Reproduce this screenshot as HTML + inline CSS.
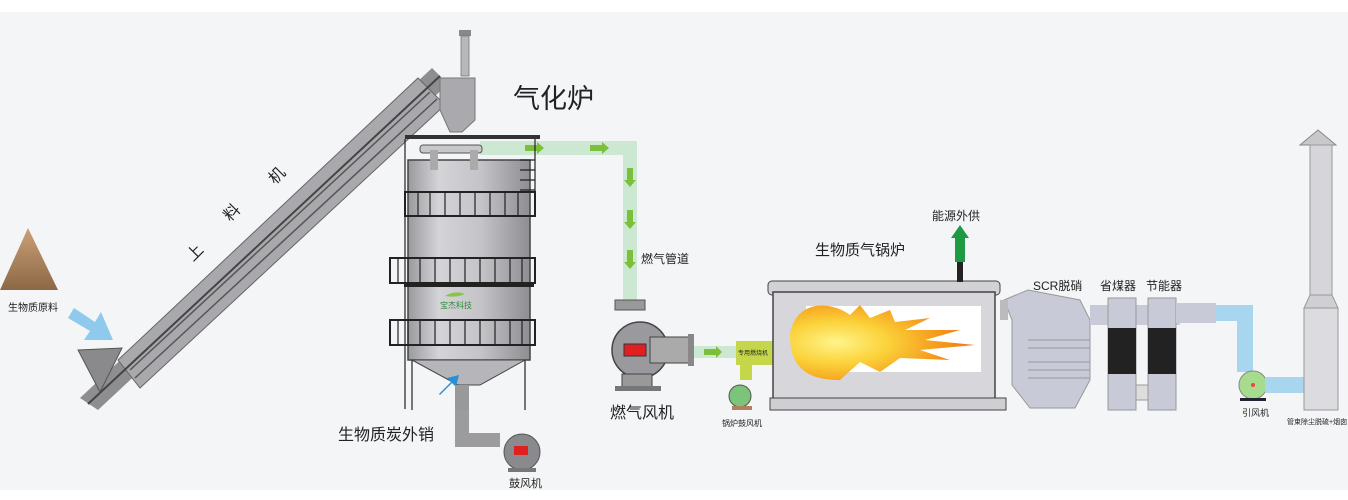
<!DOCTYPE html>
<html><head><meta charset="utf-8"><style>
html,body{margin:0;padding:0;background:#f4f5f6;}
svg{display:block}
text{font-family:"Liberation Sans","Noto Sans CJK SC",sans-serif;fill:#222}
</style></head><body>
<svg width="1348" height="500" viewBox="0 0 1348 500" xmlns="http://www.w3.org/2000/svg">
<defs>
<linearGradient id="body" x1="0" x2="1"><stop offset="0" stop-color="#9a9a9e"/><stop offset=".25" stop-color="#d4d4d8"/><stop offset=".6" stop-color="#c4c4c8"/><stop offset="1" stop-color="#8e8e92"/></linearGradient>
<radialGradient id="flame" cx=".25" cy=".5" r=".8"><stop offset="0" stop-color="#fff48a"/><stop offset=".35" stop-color="#fbd23a"/><stop offset=".7" stop-color="#f59a1c"/><stop offset="1" stop-color="#ef6d10"/></radialGradient>
<linearGradient id="pile" x1="0" y1="0" x2="0" y2="1"><stop offset="0" stop-color="#c9a078"/><stop offset="1" stop-color="#8d6846"/></linearGradient>
</defs>
<rect x="0" y="0" width="1348" height="12" fill="#fff"/>
<rect x="0" y="490" width="1348" height="10" fill="#fff"/>

<path d="M28 228 L58 290 L0 290 Z" fill="url(#pile)"/>
<text x="8" y="311" font-size="10">生物质原料</text>
<path d="M74 308 L95 322 L101 312 L113 340 L84 340 L90 331 L68 318 Z" fill="#8fc9ec"/>

<g>
<polygon points="80,398 432,68 448,84 98,410" fill="#8e8e90"/>
<polygon points="118,360 418,78 445,105 140,388" fill="#a9a9ad" stroke="#666" stroke-width="1"/>
<line x1="88" y1="404" x2="440" y2="76" stroke="#444" stroke-width="2"/>
<line x1="130" y1="370" x2="430" y2="92" stroke="#555" stroke-width="1.5"/>
<line x1="135" y1="378" x2="437" y2="99" stroke="#555" stroke-width="1.5"/>
<polygon points="78,350 122,348 100,392" fill="#8a8a8c" stroke="#555"/>
</g>
<text font-size="16" transform="translate(193,262) rotate(-45)">上</text>
<text font-size="16" transform="translate(230,222) rotate(-45)">料</text>
<text font-size="16" transform="translate(275,185) rotate(-45)">机</text>

<rect x="459" y="30" width="12" height="6" fill="#888"/>
<rect x="461" y="36" width="8" height="40" fill="#b8b8bb" stroke="#777" stroke-width=".8"/>
<polygon points="440,78 475,78 475,120 462,132 450,132 440,110" fill="#aaaaae" stroke="#777"/>
<path d="M480 148 H630 V300" fill="none" stroke="#cde8d2" stroke-width="14"/>
<g fill="#7bbf3a">
<path d="M525 145 h12 v-3 l7 6 -7 6 v-3 h-12z"/><path d="M590 145 h12 v-3 l7 6 -7 6 v-3 h-12z"/>
<path d="M627 168 v12 h-3 l6 7 6 -7 h-3 v-12z"/><path d="M627 210 v12 h-3 l6 7 6 -7 h-3 v-12z"/><path d="M627 250 v12 h-3 l6 7 6 -7 h-3 v-12z"/>
</g>
<text x="513" y="108" font-size="27">气化炉</text>
<text x="641" y="263" font-size="12">燃气管道</text>

<rect x="405" y="135" width="135" height="4" fill="#333"/>
<rect x="408" y="160" width="122" height="200" fill="url(#body)" stroke="#444" stroke-width="1.5"/>
<rect x="420" y="145" width="62" height="8" rx="3" fill="#c8c8cc" stroke="#555"/>
<rect x="430" y="150" width="8" height="20" fill="#aaa"/><rect x="470" y="150" width="8" height="20" fill="#aaa"/>
<g fill="none" stroke="#222" stroke-width="2">
<rect x="405" y="192" width="130" height="24"/>
<rect x="390" y="258" width="145" height="25"/>
<rect x="390" y="320" width="145" height="25"/>
</g>
<g stroke="#222" stroke-width="1.2">
<path d="M418 192v24M430 192v24M445 192v24M460 192v24M475 192v24M490 192v24M505 192v24M518 192v24"/>
<path d="M398 258v25M408 258v25M420 258v25M435 258v25M450 258v25M465 258v25M480 258v25M495 258v25M510 258v25M522 258v25"/>
<path d="M398 320v25M408 320v25M420 320v25M435 320v25M450 320v25M465 320v25M480 320v25M495 320v25M510 320v25M522 320v25"/>
<path d="M405 139v270M535 139v75M520 160h15M520 170h15M520 180h15M520 190h15"/>
<path d="M412 360v50M525 360v50"/>
</g>
<rect x="404" y="282" width="130" height="5" fill="#222"/>
<text x="440" y="308" font-size="8" style="fill:#2f8a3a">宝杰科技</text>
<path d="M445 296 q10 -6 20 -2 q-8 4 -20 2z" fill="#8bc34a"/>
<polygon points="412,360 525,360 480,385 458,385" fill="#b6b6ba" stroke="#444"/>
<path d="M440 395 l12 -12 4 4 3 -12 -12 3 4 4 -12 12z" fill="#2a8fd6"/>
<rect x="455" y="385" width="14" height="30" fill="#999"/>
<path d="M462 410 V440 H500" fill="none" stroke="#9c9c9f" stroke-width="14"/>
<circle cx="522" cy="452" r="18" fill="#8a8a8e" stroke="#555"/>
<rect x="514" y="446" width="14" height="9" fill="#e02020"/>
<rect x="508" y="468" width="28" height="4" fill="#777"/>
<text x="509" y="487" font-size="11">鼓风机</text>
<text x="338" y="440" font-size="16">生物质炭外销</text>

<rect x="615" y="300" width="30" height="10" fill="#999" stroke="#555"/>
<circle cx="640" cy="350" r="28" fill="#9a9a9e" stroke="#444" stroke-width="1.5"/>
<rect x="650" y="337" width="40" height="26" fill="#aaa" stroke="#444"/>
<rect x="688" y="334" width="6" height="32" fill="#888"/>
<rect x="624" y="344" width="22" height="12" fill="#e02020" stroke="#333"/>
<rect x="622" y="374" width="30" height="14" fill="#999" stroke="#444"/>
<rect x="615" y="386" width="46" height="5" fill="#777"/>
<text x="610" y="418" font-size="16">燃气风机</text>

<rect x="694" y="346" width="45" height="12" fill="#cde8d2"/>
<path d="M704 349 h12 v-3 l6 6 -6 6 v-3 h-12z" fill="#7bbf3a"/>
<rect x="736" y="341" width="38" height="24" fill="#c6d64a"/>
<rect x="740" y="360" width="12" height="20" fill="#c6d64a"/>
<text x="738" y="355" font-size="6">专用燃烧机</text>
<circle cx="740" cy="396" r="11" fill="#7cc47a" stroke="#555"/>
<rect x="732" y="406" width="20" height="4" fill="#b08060"/>
<text x="722" y="426" font-size="8">锅炉鼓风机</text>

<rect x="768" y="281" width="232" height="14" rx="4" fill="#d2d2d6" stroke="#444"/>
<rect x="773" y="292" width="222" height="108" fill="#d7d7db" stroke="#444" stroke-width="1.5"/>
<rect x="770" y="398" width="236" height="12" fill="#cfcfd3" stroke="#444"/>
<rect x="806" y="306" width="175" height="66" fill="#fff"/>
<path d="M790 335 C795 300 830 300 850 315 L860 305 L870 318 L890 310 L895 322 L930 318 L905 330 L960 330 L925 340 L975 345 L920 350 L950 360 L900 358 L880 372 L860 362 L840 380 C810 380 790 370 790 335Z" fill="url(#flame)"/>
<rect x="957" y="262" width="6" height="20" fill="#222"/>
<path d="M955 262 V238 H951 L960 225 L969 238 H965 V262Z" fill="#1f9a44"/>
<text x="932" y="220" font-size="12">能源外供</text>
<text x="815" y="255" font-size="15">生物质气锅炉</text>

<polygon points="1004,300 1028,290 1080,300 1090,320 1090,380 1075,408 1030,408 1012,385 1012,320" fill="#c8cbd7" stroke="#999"/>
<rect x="1000" y="300" width="8" height="20" fill="#bbb"/>
<g stroke="#999" stroke-width="1"><path d="M1028 340h62M1028 348h62M1028 362h62M1028 370h62M1028 378h62"/></g>
<text x="1033" y="290" font-size="12">SCR脱硝</text>
<text x="1100" y="290" font-size="12">省煤器</text>
<text x="1146" y="290" font-size="12">节能器</text>
<rect x="1090" y="305" width="90" height="20" fill="#c8cbd7"/>
<rect x="1108" y="298" width="28" height="112" fill="#c8cbd7" stroke="#999"/>
<rect x="1148" y="298" width="28" height="112" fill="#c8cbd7" stroke="#999"/>
<rect x="1108" y="328" width="28" height="46" fill="#222"/>
<rect x="1148" y="328" width="28" height="46" fill="#222"/>
<rect x="1136" y="385" width="12" height="15" fill="#ddd" stroke="#999"/>
<rect x="1176" y="303" width="40" height="20" fill="#c8cbd7"/>
<path d="M1216 313 H1245 V372" fill="none" stroke="#a8d6ef" stroke-width="16"/>
<circle cx="1253" cy="385" r="14" fill="#a7dc8f" stroke="#888"/>
<circle cx="1253" cy="385" r="2" fill="#e44"/>
<rect x="1240" y="398" width="26" height="3" fill="#223"/>
<rect x="1265" y="377" width="40" height="16" fill="#a8d6ef"/>
<text x="1242" y="416" font-size="9">引风机</text>
<polygon points="1300,145 1318,130 1336,145" fill="#c8c8cc" stroke="#888"/>
<rect x="1310" y="145" width="22" height="150" fill="#d6d6da" stroke="#999"/>
<polygon points="1310,295 1332,295 1338,308 1304,308" fill="#d0d0d4" stroke="#999"/>
<rect x="1304" y="308" width="34" height="102" fill="#dcdce0" stroke="#999"/>
<text x="1287" y="424" font-size="7">管束除尘脱硫+烟囱</text>
</svg>
</body></html>
